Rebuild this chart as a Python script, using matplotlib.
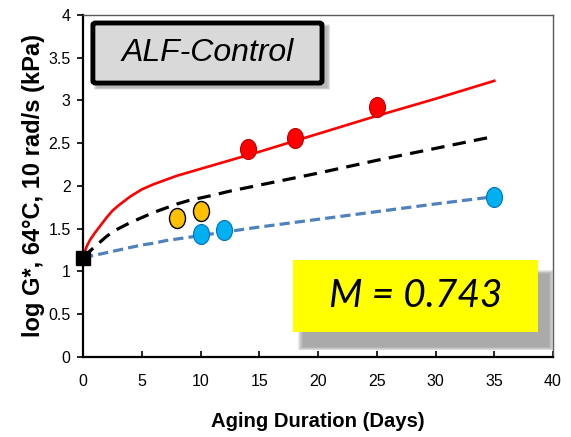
#!/usr/bin/env python3
import numpy as np
import matplotlib
matplotlib.use("Agg")
import matplotlib.pyplot as plt
import matplotlib.ticker as mtick
from matplotlib.path import Path
from matplotlib.transforms import Affine2D
from matplotlib.patches import FancyBboxPatch

# measured points
red_days = [14, 18, 25]
red_logg = [2.43, 2.56, 2.92]
orange_days = [8, 10]
orange_logg = [1.62, 1.71]
blue_days = [10, 12, 35]
blue_logg = [1.44, 1.48, 1.875]
unaged_day = [0]
unaged_logg = [1.16]

# model curves
fit_days = [0, 0.3, 0.6, 1, 1.5, 2, 2.5, 3, 4, 5, 6, 7, 8, 9, 10, 11, 12.5, 15, 20, 25, 30, 35]
red_fit = [1.17, 1.29, 1.37, 1.45, 1.54, 1.63, 1.71, 1.77, 1.875, 1.96, 2.02, 2.07, 2.12, 2.16,
           2.20, 2.24, 2.30, 2.40, 2.61, 2.82, 3.02, 3.23]
black_fit = [1.17, 1.20, 1.24, 1.29, 1.35, 1.41, 1.46, 1.50, 1.57, 1.63, 1.69, 1.74, 1.79, 1.83,
             1.86, 1.89, 1.94, 2.01, 2.15, 2.30, 2.44, 2.58]
blue_fit = [1.17, 1.175, 1.18, 1.19, 1.205, 1.22, 1.235, 1.25, 1.28, 1.31, 1.33, 1.36, 1.38, 1.40,
            1.42, 1.44, 1.47, 1.52, 1.61, 1.70, 1.79, 1.875]

title_txt = 'ALF-Control'
m_txt = 'M = 0.743'

plt.rcParams['font.family'] = ['Liberation Sans', 'DejaVu Sans']

fig = plt.figure(figsize=(5.71, 4.37), dpi=100)
ax = fig.add_axes([0.1454, 0.1831, 0.8231, 0.7826])

# oval marker (the circles in the original are stretched)
oval = Path.unit_circle().transformed(Affine2D().scale(0.8, 1.0))

ax.plot(fit_days, red_fit, color='#FF0000', lw=1.9, zorder=2)
ax.plot(fit_days, black_fit, color='black', lw=2.3, dashes=(4.2, 2.6), zorder=2)
ax.plot(fit_days, blue_fit, color='#4F81BD', lw=2.3, dashes=(3.2, 1.6), zorder=2)

ax.plot(red_days, red_logg, ls='none', marker=oval, ms=14.4, mfc='#FF0000', mec='#C00000', mew=0.8, zorder=3)
ax.plot(orange_days, orange_logg, ls='none', marker=oval, ms=14.4, mfc='#FFC000', mec='black', mew=1.0, zorder=3)
ax.plot(blue_days, blue_logg, ls='none', marker=oval, ms=14.4, mfc='#00B0F0', mec='#0070C0', mew=0.8, zorder=3)
ax.plot(unaged_day, unaged_logg, ls='none', marker='s', ms=9.5, color='black', zorder=4, clip_on=False)

ax.set_xlim(0, 40)
ax.set_ylim(0, 4)
ax.set_xticks(np.arange(0, 41, 5))
ax.set_yticks(np.arange(0, 4.01, 0.5))
ax.yaxis.set_major_formatter(mtick.FuncFormatter(lambda v, p: '%g' % v))
ax.tick_params(axis='x', direction='in', length=4, width=1.2, pad=12, labelsize=11.5)
ax.tick_params(axis='y', direction='out', length=4, width=1.2, pad=5, labelsize=11.5)

for s in ['left', 'bottom']:
    ax.spines[s].set_linewidth(1.6)
    ax.spines[s].set_color('black')
for s in ['top', 'right']:
    ax.spines[s].set_linewidth(1.0)
    ax.spines[s].set_color('#595959')

ax.set_xlabel('Aging Duration (Days)', fontsize=14.6, fontweight='bold', labelpad=17)
ax.set_ylabel('log G*, 64°C, 10 rad/s (kPa)', fontsize=17, fontweight='bold', labelpad=2)

# soft shadows
def shadow(x0, y0, w, h, off, spread, alpha):
    for i in range(6):
        g = spread * (6 - i) / 6
        p = FancyBboxPatch((x0 + off[0] - g, y0 - off[1] - g), w + 2 * g, h + 2 * g,
                           boxstyle='square,pad=0', transform=ax.transAxes,
                           fc='#7F7F7F', ec='none', alpha=alpha, clip_on=False, zorder=5)
        ax.add_patch(p)

# title box
shadow(0.021, 0.801, 0.4875, 0.1756, (0.010, 0.012), 0.008, 0.12)
ax.add_patch(FancyBboxPatch((0.021, 0.801), 0.4875, 0.1756, boxstyle='round,pad=0,rounding_size=0.006',
                            transform=ax.transAxes, fc='#D9D9D9', ec='black', lw=3.5,
                            clip_on=False, zorder=6))
ax.text(0.2647, 0.889, title_txt, transform=ax.transAxes, ha='center', va='center',
        fontsize=23, fontstyle='italic', zorder=7)

# M box
shadow(0.447, 0.0731, 0.521, 0.2105, (0.022, 0.042), 0.012, 0.16)
ax.add_patch(FancyBboxPatch((0.447, 0.0731), 0.521, 0.2105, boxstyle='square,pad=0',
                            transform=ax.transAxes, fc='#FFFF00', ec='none',
                            clip_on=False, zorder=6))
ax.text(0.7075, 0.1784, m_txt, transform=ax.transAxes, ha='center', va='center',
        fontsize=28, fontstyle='italic', family=['Lato', 'DejaVu Sans'], zorder=7)

plt.savefig('out.png', dpi=100)
